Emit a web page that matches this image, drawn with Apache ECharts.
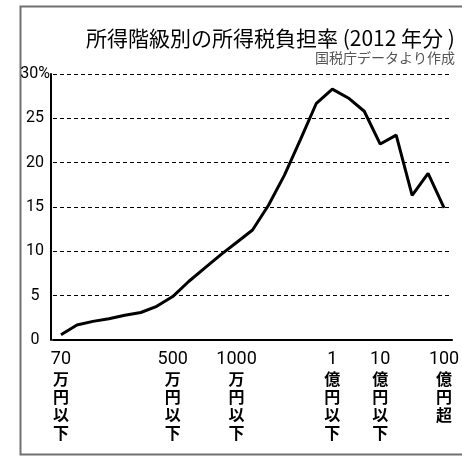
<!DOCTYPE html>
<html>
<head>
<meta charset="utf-8">
<script src="https://cdn.jsdelivr.net/npm/echarts@6/dist/echarts.min.js"></script>
<style>
html,body{margin:0;padding:0;background:#fff;}
#c{width:462px;height:461px;}
</style>
</head>
<body>
<div id="c"></div>
<script>
const categories = ['70万円以下','100万円以下','150万円以下','200万円以下','250万円以下','300万円以下','400万円以下','500万円以下','600万円以下','700万円以下','800万円以下','1000万円以下','1200万円以下','1500万円以下','2000万円以下','3000万円以下','5000万円以下','1億円以下','2億円以下','5億円以下','10億円以下','20億円以下','50億円以下','100億円以下','100億円超'];
const taxRate = [0.6,1.7,2.1,2.4,2.8,3.1,3.8,4.9,6.6,8.1,9.6,11.0,12.4,15.2,18.6,22.6,26.7,28.3,27.3,25.8,22.1,23.1,16.3,18.8,14.9];
const labeledCategories = ['70万円以下','500万円以下','1000万円以下','1億円以下','10億円以下','100億円超'];
const yTicks = [0,5,10,15,20,25,30];
const titleText = '所得階級別の所得税負担率 (2012 年分 )';
const sourceText = '国税庁データより作成';

const numFont = "Roboto,'Noto Sans CJK JP',sans-serif";
const cjkFont = "'Noto Sans CJK JP',sans-serif";

const chart = echarts.init(document.getElementById('c'), null, {renderer:'canvas'});
chart.setOption({
  backgroundColor:'#fff',
  animation:false,
  graphic:[
    {type:'rect', left:18, top:4, shape:{width:470, height:448},
     style:{fill:'none', stroke:'#707070', lineWidth:2}, z:0},
    {type:'text', left:86, top:28, style:{text:titleText, font:"21px 'Noto Sans CJK JP'", fill:'#000'}},
    {type:'text', right:7, top:51, style:{text:sourceText, font:"14px 'Noto Sans CJK JP'", fill:'#555'}}
  ],
  grid:{left:53, top:74, width:411, height:266, containLabel:false},
  xAxis:{
    type:'category',
    data:categories,
    boundaryGap:true,
    axisLine:{show:true, lineStyle:{color:'#000', width:2}},
    axisTick:{show:false},
    splitLine:{show:false},
    axisLabel:{
      interval:function(i, name){ return labeledCategories.indexOf(name) >= 0; },
      margin:9,
      formatter:function(name){
        const m = name.match(/^(\d+)(.*)$/);
        const chars = m[2].split('');
        return '{n|' + m[1] + '}\n' + chars.map(c => '{k|' + c + '}').join('\n');
      },
      rich:{
        n:{fontFamily:numFont, fontSize:18, lineHeight:21, color:'#000'},
        k:{fontFamily:cjkFont, fontSize:16, fontWeight:'bold', lineHeight:18, color:'#000'}
      }
    }
  },
  yAxis:{
    type:'value',
    min:0, max:30, interval:5,
    offset:2,
    axisLine:{show:true, lineStyle:{color:'#000', width:2}},
    axisTick:{show:false},
    splitLine:{show:true, lineStyle:{color:'#000', width:1, type:[4,3]}},
    axisLabel:{
      margin:16,
      align:'center',
      fontFamily:numFont,
      fontSize:16,
      color:'#000',
      formatter:function(v){ return yTicks.indexOf(v) >= 0 ? (v === 30 ? v + '%' : String(v)) : ''; }
    }
  },
  series:[{
    type:'line',
    data:taxRate,
    symbol:'none',
    lineStyle:{color:'#000', width:3},
    z:5
  }]
});
</script>
</body>
</html>
